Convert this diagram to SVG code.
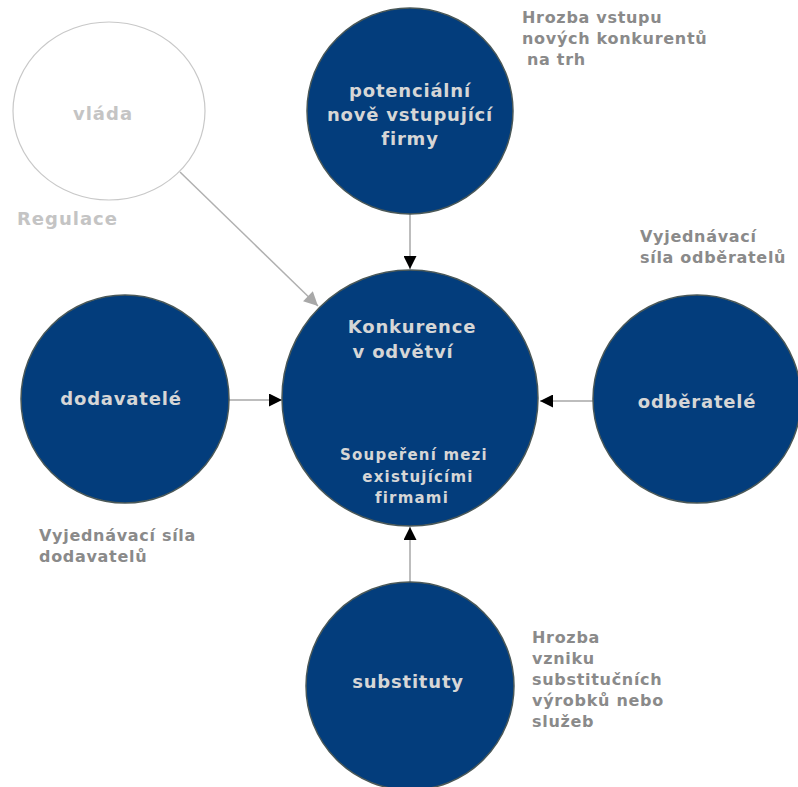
<svg xmlns="http://www.w3.org/2000/svg" width="798" height="787" viewBox="0 0 798 787">
  <style>
    .force { fill: #033d7c; stroke: #4a5858; stroke-width: 1.5; }
    .gov { fill: #ffffff; stroke: #c8c8c8; stroke-width: 1.2; }
    .in { font-family: "DejaVu Sans", Verdana, sans-serif; font-weight: bold; fill: #d6d6d6; text-anchor: middle; }
    .big { font-size: 18px; letter-spacing: 0.8px; }
    .small { font-size: 15px; letter-spacing: 1.2px; }
    .note { font-family: "DejaVu Sans", Verdana, sans-serif; font-weight: bold; font-size: 16px; letter-spacing: 0.7px; fill: #8a8a8a; }
    .pale { font-family: "DejaVu Sans", Verdana, sans-serif; font-weight: bold; font-size: 18px; letter-spacing: 1px; fill: #c4c4c4; }
    .link { stroke: #bdbdbd; stroke-width: 2; fill: none; marker-end: url(#headDark); }
    .link-gov { stroke: #b0b0b0; stroke-width: 1.5; fill: none; marker-end: url(#headGray); }
  </style>
  <defs>
    <marker id="headDark" viewBox="0 0 10 10" refX="10" refY="5" markerWidth="14" markerHeight="13" markerUnits="userSpaceOnUse" orient="auto">
      <path d="M0,0 L10,5 L0,10 Z" fill="#000"/>
    </marker>
    <marker id="headGray" viewBox="0 0 10 10" refX="10" refY="5" markerWidth="15" markerHeight="14" markerUnits="userSpaceOnUse" orient="auto">
      <path d="M0,0 L10,5 L0,10 Z" fill="#a8a8a8"/>
    </marker>
  </defs>

  <!-- connectors -->
  <g id="connectors">
    <line class="link" x1="410" y1="214" x2="410" y2="269"/>
    <line class="link" x1="229" y1="400" x2="282" y2="400"/>
    <line class="link" x1="593" y1="401" x2="540" y2="401"/>
    <line class="link" x1="410" y1="582" x2="410" y2="527"/>
    <line class="link-gov" x1="180" y1="172" x2="318" y2="306"/>
  </g>

  <!-- government -->
  <g id="vlada">
    <ellipse class="gov" cx="109" cy="111" rx="96" ry="89"/>
    <text class="pale" x="103" y="120" text-anchor="middle">vláda</text>
    <text class="pale" x="17" y="225">Regulace</text>
  </g>

  <!-- new entrants -->
  <g id="nove-firmy">
    <circle class="force" cx="410" cy="111" r="103"/>
    <text class="in big" x="410" y="97">potenciální</text>
    <text class="in big" x="410" y="121">nově vstupující</text>
    <text class="in big" x="410" y="145">firmy</text>
    <text class="note" x="522" y="23">Hrozba vstupu</text>
    <text class="note" x="522" y="44">nových konkurentů</text>
    <text class="note" x="527" y="65">na trh</text>
  </g>

  <!-- industry rivalry -->
  <g id="konkurence">
    <circle class="force" cx="410" cy="398" r="128"/>
    <text class="in big" x="412" y="333">Konkurence</text>
    <text class="in big" x="403" y="358">v odvětví</text>
    <text class="in small" x="414" y="460">Soupeření mezi</text>
    <text class="in small" x="418" y="482">existujícími</text>
    <text class="in small" x="412" y="503">firmami</text>
  </g>

  <!-- suppliers -->
  <g id="dodavatele">
    <circle class="force" cx="125" cy="399" r="104"/>
    <text class="in big" x="121" y="405">dodavatelé</text>
    <text class="note" x="39" y="541">Vyjednávací síla</text>
    <text class="note" x="39" y="562">dodavatelů</text>
  </g>

  <!-- buyers -->
  <g id="odberatele">
    <circle class="force" cx="697" cy="399" r="104"/>
    <text class="in big" x="697" y="408">odběratelé</text>
    <text class="note" x="640" y="242">Vyjednávací</text>
    <text class="note" x="640" y="263">síla odběratelů</text>
  </g>

  <!-- substitutes -->
  <g id="substituty">
    <circle class="force" cx="410" cy="686" r="104"/>
    <text class="in big" x="408" y="688">substituty</text>
    <text class="note" x="532" y="643">Hrozba</text>
    <text class="note" x="532" y="664">vzniku</text>
    <text class="note" x="532" y="685">substitučních</text>
    <text class="note" x="532" y="706">výrobků nebo</text>
    <text class="note" x="532" y="727">služeb</text>
  </g>
</svg>
